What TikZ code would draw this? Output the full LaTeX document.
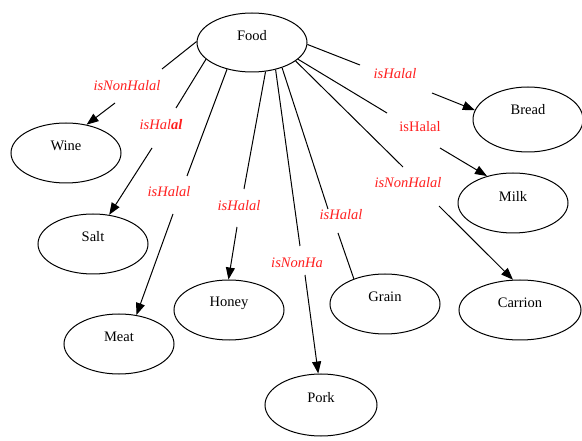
\documentclass[tikz,border=0pt]{standalone}
\usepackage{fontspec}
\setmainfont{Liberation Serif}
\usetikzlibrary{shapes.geometric,arrows.meta}
\definecolor{lblred}{RGB}{255,30,30}
\tikzset{
  ell/.style={draw, ellipse, line width=1pt, inner sep=0pt, minimum width=110pt, minimum height=60pt},
  nm/.style={font=\fontsize{14.5}{16}\selectfont, text=black, yshift=7pt},
  lab/.style={font=\fontsize{14.5}{16}\selectfont\itshape, text=lblred, inner sep=0pt},
  labup/.style={font=\fontsize{14.5}{16}\selectfont, text=lblred, inner sep=0pt},
  edge/.style={line width=1pt},
  arr/.style={line width=1pt, -{Triangle[length=12pt,width=9pt]}}
}
\begin{document}
\begin{tikzpicture}[x=1pt,y=-1pt]
\useasboundingbox (0,0) rectangle (582,441);
% nodes
\node[ell, minimum height=59pt, label={[nm]center:Food}] (food) at (252,42.5) {};
\node[ell, label={[nm]center:Wine}] (wine) at (66,153) {};
\node[ell, label={[nm]center:Salt}] (salt) at (93,244) {};
\node[ell, label={[nm]center:Meat}] (meat) at (119,344) {};
\node[ell, label={[nm]center:Honey}] (honey) at (229,310) {};
\node[ell, minimum width=112pt, minimum height=62pt, label={[nm]center:Pork}] (pork) at (321,405) {};
\node[ell, label={[nm]center:Grain}] (grain) at (385,304) {};
\node[ell, minimum width=122pt, label={[nm]center:Carrion}] (carrion) at (520,310) {};
\node[ell, label={[nm]center:Milk}] (milk) at (513,203) {};
\node[ell, minimum width=110pt, minimum height=65pt, label={[nm,yshift=3pt]center:Bread}] (bread) at (528,119.5) {};
% gap coordinates
\coordinate (wa) at (162,69);  \coordinate (wb) at (115,103);
\coordinate (sa) at (176,108); \coordinate (sb) at (152,148);
\coordinate (ma) at (187,176); \coordinate (mb) at (173,214);
\coordinate (ha) at (244,189); \coordinate (hb) at (237,227);
\coordinate (pa) at (300,246); \coordinate (pb) at (305,275);
\coordinate (ga) at (328,209); \coordinate (gb) at (338,233);
\coordinate (ba) at (360,65);  \coordinate (bb) at (432,93);
\coordinate (ka) at (387,113); \coordinate (kb) at (440,148);
\coordinate (ca) at (403,167); \coordinate (cb) at (439,206);
% labels
\node[lab] (lw) at (127,86) {isNonHalal};
\node[lab] (ls) at (161,125) {isHal\textbf{al}};
\node[lab] (lm) at (169,192) {isHalal};
\node[lab] (lh) at (239,206) {isHalal};
\node[lab] (lp) at (297,263) {isNonHa};
\node[lab] (lg) at (341,215) {isHalal};
\node[lab] (lb) at (395,74) {isHalal};
\node[labup] (lk) at (420,127) {isHalal};
\node[lab] (lc) at (408,183) {isNonHalal};
% edges
\draw[edge] (food.179) -- (wa);   \draw[arr] (wb) -- (wine.54.6);
\draw[edge] (food.200) -- (sa);   \draw[arr] (sb) -- (salt.61.3);
\draw[edge] (food.227.6) -- (ma); \draw[arr] (mb) -- (meat.59.9);
\draw[edge] (food.295.4) -- (ha); \draw[arr] (hb) -- (honey.91.9);
\draw[edge] (food.311) -- (pa);   \draw[arr] (pb) -- (pork.95.5);
\draw[edge] (food.320.4) -- (ga); \draw[edge] (gb) -- (grain.141.1);
\draw[edge] (food.358.5) -- (ba); \draw[arr] (bb) -- (bread.170.9);
\draw[edge] (food.340.6) -- (ka); \draw[arr] (kb) -- (milk.134.1);
\draw[edge] (food.337.9) -- (ca); \draw[arr] (cb) -- (carrion.103.1);
\end{tikzpicture}
\end{document}
